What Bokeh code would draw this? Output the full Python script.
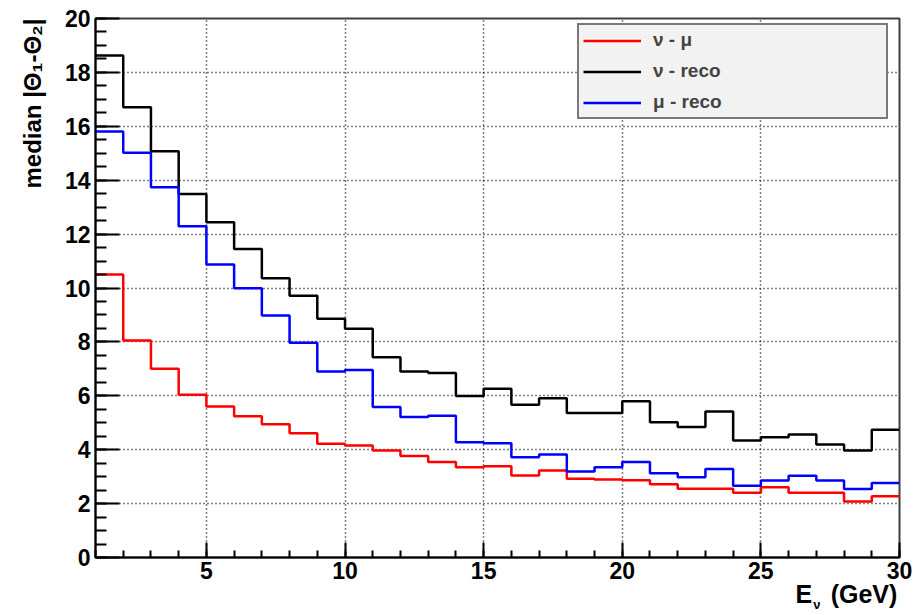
from bokeh.plotting import figure
from bokeh.models import (Legend, LegendItem, Title, FixedTicker, Range1d,
                          LinearAxis, AllLabels)
from bokeh.embed import file_html
from bokeh.resources import INLINE

# ---- data (bin edges 1..30 GeV, 1 GeV bins) ----
edges = list(range(1, 31))
nu_mu = [10.50, 8.05, 7.00, 6.04, 5.60, 5.24, 4.94, 4.61, 4.22, 4.16,
         3.97, 3.77, 3.54, 3.35, 3.39, 3.04, 3.23, 2.92, 2.89, 2.87,
         2.72, 2.55, 2.55, 2.40, 2.61, 2.40, 2.40, 2.08, 2.27]
nu_reco = [18.63, 16.71, 15.07, 13.49, 12.44, 11.45, 10.36, 9.71, 8.86, 8.49,
           7.43, 6.90, 6.85, 5.99, 6.26, 5.67, 5.91, 5.36, 5.36, 5.80,
           5.02, 4.84, 5.42, 4.34, 4.46, 4.56, 4.19, 3.97, 4.74]
mu_reco = [15.81, 15.02, 13.74, 12.29, 10.87, 9.99, 8.98, 7.97, 6.90, 6.96,
           5.58, 5.21, 5.26, 4.28, 4.24, 3.72, 3.82, 3.19, 3.35, 3.54,
           3.13, 2.98, 3.28, 2.66, 2.86, 3.03, 2.86, 2.54, 2.76]
series_labels = ["ν - μ", "ν - reco", "μ - reco"]
x_ticks = [5, 10, 15, 20, 25, 30]
y_ticks = [0, 2, 4, 6, 8, 10, 12, 14, 16, 18, 20]
y_title = "median |Θ₁-Θ₂|"

FONT = "Liberation Sans"

p = figure(width=920, height=615, output_backend="svg", toolbar_location=None,
           x_range=Range1d(1, 30), y_range=Range1d(0, 20),
           min_border_left=95, min_border_right=21, min_border_top=18,
           min_border_bottom=58)
p.background_fill_color = "white"
p.border_fill_color = "white"
p.outline_line_color = "#404040"
p.outline_line_width = 2

# axes
p.xaxis.ticker = FixedTicker(ticks=x_ticks, minor_ticks=list(range(1, 31)))
p.yaxis.ticker = FixedTicker(ticks=y_ticks, minor_ticks=[i * 0.5 for i in range(41)])
for ax in (p.xaxis, p.yaxis):
    ax.axis_line_color = "black"
    ax.axis_line_width = 2
    ax.major_tick_line_color = "black"
    ax.major_tick_line_width = 2
    ax.minor_tick_line_color = "black"
    ax.minor_tick_line_width = 2
    ax.major_tick_out = 0
    ax.minor_tick_out = 0
    ax.major_label_text_font = FONT
    ax.major_label_text_font_style = "bold"
    ax.major_label_text_font_size = "23px"
    ax.major_label_text_color = "black"
p.xaxis.major_tick_in = 15
p.xaxis.minor_tick_in = 7
p.yaxis.major_tick_in = 24
p.yaxis.minor_tick_in = 11
p.xaxis.major_label_standoff = 4
p.yaxis.major_label_standoff = 5

# grid
for g in (p.xgrid, p.ygrid):
    g.grid_line_color = "black"
    g.grid_line_dash = "1 3"
    g.grid_line_width = 1.5
p.xgrid.ticker = FixedTicker(ticks=x_ticks)
p.ygrid.ticker = FixedTicker(ticks=y_ticks)

# histograms as steps
def stepped(vals):
    return vals + [vals[-1]]

r_red = p.step(edges, stepped(nu_mu), mode="after", line_color="#ff0000", line_width=2.5)
r_blk = p.step(edges, stepped(nu_reco), mode="after", line_color="black", line_width=2.5)
r_blu = p.step(edges, stepped(mu_reco), mode="after", line_color="#0000ff", line_width=2.5)

legend = Legend(items=[LegendItem(label=series_labels[0], renderers=[r_red]),
                       LegendItem(label=series_labels[1], renderers=[r_blk]),
                       LegendItem(label=series_labels[2], renderers=[r_blu])],
                location=(482, 438))
legend.background_fill_color = "#f2f2f2"
legend.background_fill_alpha = 1
legend.border_line_color = "black"
legend.border_line_width = 2
legend.padding = 4
legend.spacing = 9
legend.glyph_width = 58
legend.glyph_height = 19
legend.label_height = 19
legend.label_width = 229
legend.label_standoff = 12
legend.margin = 0
legend.label_text_font = FONT
legend.label_text_font_style = "bold"
legend.label_text_font_size = "19px"
p.add_layout(legend, "center")

# y-axis title (rotated, aligned to the top)
p.add_layout(Title(text=y_title, align="right", vertical_align="top", offset=0,
                   standoff=28, text_font=FONT, text_font_style="bold",
                   text_font_size="24px", text_color="black"), "left")

# x-axis title "E_ν (GeV)", right-aligned under the axis end:
# drawn as label rows below the axis (E and (GeV), then the smaller subscript ν)
def title_row(labels, size, standoff):
    ax = LinearAxis(ticker=FixedTicker(ticks=list(labels.keys()), minor_ticks=[]),
                    major_label_overrides=labels, major_label_policy=AllLabels())
    ax.axis_line_color = None
    ax.major_tick_line_color = None
    ax.minor_tick_line_color = None
    ax.major_tick_in = 0
    ax.major_tick_out = 0
    ax.minor_tick_in = 0
    ax.minor_tick_out = 0
    ax.major_label_standoff = standoff
    ax.major_label_text_font = FONT
    ax.major_label_text_font_style = "bold"
    ax.major_label_text_font_size = size
    ax.major_label_text_color = "black"
    return ax

p.add_layout(title_row({26.55: "E", 28.72: "(GeV)"}, "25px", -2), "below")
p.add_layout(title_row({27.02: "ν"}, "13px", -14), "below")

open("out.html", "w").write(file_html(p, INLINE))
